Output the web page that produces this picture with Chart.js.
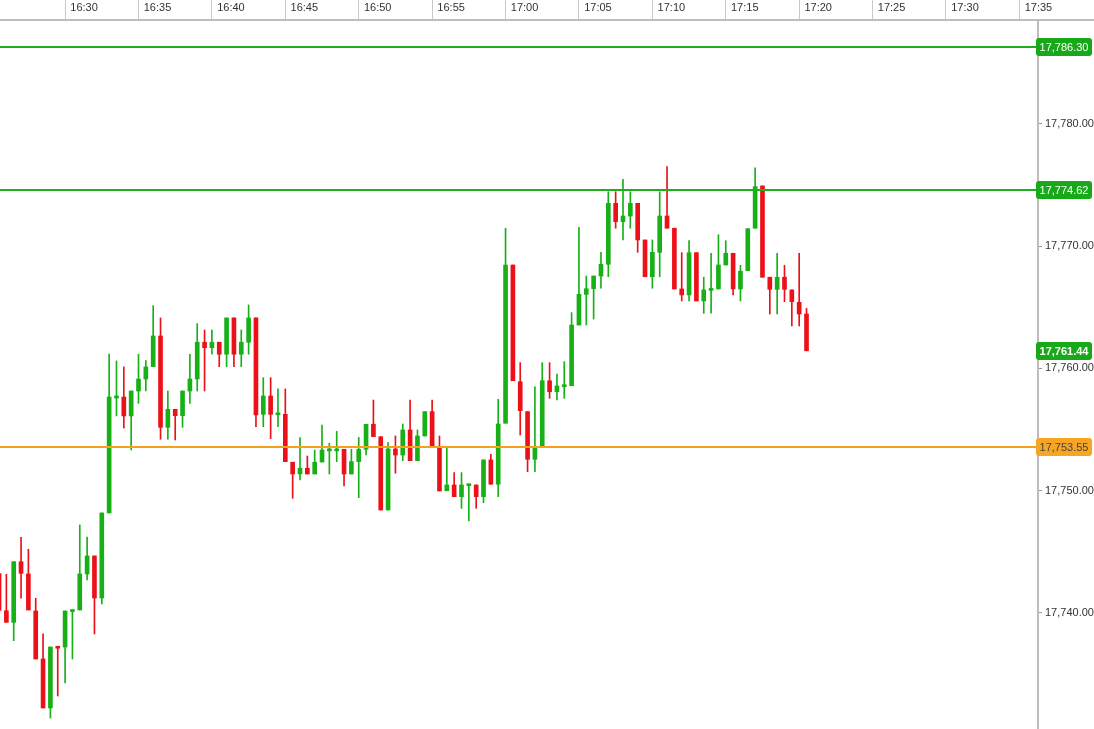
<!DOCTYPE html>
<html><head><meta charset="utf-8">
<script src="https://cdn.jsdelivr.net/npm/chart.js@4.4.1/dist/chart.umd.min.js"></script>
<style>html,body{margin:0;padding:0;background:#fff;overflow:hidden}canvas{display:block}</style>
</head><body>
<canvas id="c" width="1094" height="729"></canvas>
<script>
// 30-second candles, first one at 16:25:30
const firstCandleTime = '16:25:30';
const candleSeconds = 30;

const opens = [
 17743.20,17740.17,17739.22,17744.18,17743.18,17740.15,17736.22,17732.21,17737.20,17737.20,
 17740.10,17740.23,17743.18,17744.65,17741.21,17748.17,17757.58,17757.66,17756.11,17758.15,
 17759.13,17760.14,17762.65,17755.18,17756.65,17756.13,17758.15,17759.13,17762.14,17761.69,
 17762.14,17761.16,17764.13,17761.16,17762.14,17764.13,17756.24,17757.74,17756.20,17756.24,
 17752.32,17751.36,17751.83,17751.36,17752.34,17753.25,17753.25,17753.38,17751.36,17752.37,
 17753.38,17755.43,17754.41,17748.41,17753.41,17752.91,17754.96,17752.45,17754.47,17756.46,
 17753.51,17749.99,17750.46,17749.50,17750.40,17750.46,17749.50,17752.51,17750.52,17755.51,
 17768.46,17758.91,17756.46,17752.56,17753.59,17758.99,17758.09,17758.50,17758.58,17763.55,
 17766.06,17766.52,17767.56,17768.52,17773.51,17772.01,17772.47,17773.51,17770.51,17767.50,
 17769.50,17772.47,17771.47,17766.50,17766.01,17769.47,17765.52,17766.38,17766.50,17768.46,
 17769.42,17766.50,17768.00,17771.47,17774.93,17767.46,17766.47,17767.46,17766.42,17765.41,17764.45
];
const highs = [
 17743.20,17743.15,17744.18,17746.18,17745.20,17741.19,17738.27,17737.20,17737.20,17740.15,
 17740.15,17747.19,17746.20,17744.65,17748.17,17761.18,17760.61,17760.12,17758.15,17761.16,
 17760.63,17765.13,17764.13,17758.15,17756.65,17758.15,17761.16,17763.66,17763.14,17763.14,
 17762.14,17764.13,17764.13,17763.14,17765.19,17764.13,17759.24,17759.24,17758.32,17758.32,
 17752.32,17754.33,17752.83,17753.32,17755.37,17753.87,17754.85,17753.38,17753.38,17754.36,
 17755.43,17757.41,17754.41,17753.92,17754.47,17755.45,17757.41,17754.96,17756.46,17757.41,
 17754.47,17753.59,17751.47,17751.47,17750.46,17750.46,17752.51,17752.97,17757.47,17771.47,
 17768.46,17760.47,17756.46,17758.50,17760.47,17760.47,17759.54,17760.55,17764.56,17771.55,
 17767.56,17767.56,17769.50,17774.46,17774.46,17775.47,17774.46,17773.51,17770.51,17770.51,
 17774.46,17776.51,17771.47,17769.47,17770.45,17769.47,17767.46,17769.42,17770.94,17770.45,
 17769.42,17768.44,17771.43,17776.42,17774.93,17767.46,17769.42,17768.44,17766.42,17769.42,17764.92
];
const lows = [
 17740.20,17739.22,17737.72,17741.19,17740.23,17736.22,17732.21,17731.39,17733.19,17734.26,
 17736.22,17740.23,17742.69,17738.27,17740.72,17748.17,17756.11,17755.12,17753.32,17757.14,
 17758.15,17760.14,17754.20,17754.20,17754.14,17755.18,17757.14,17758.15,17758.15,17761.16,
 17760.14,17760.14,17760.14,17760.14,17761.16,17755.23,17755.23,17754.25,17755.23,17752.37,
 17749.37,17750.87,17751.36,17751.36,17752.34,17751.36,17752.37,17750.38,17751.36,17749.42,
 17752.91,17754.41,17748.41,17748.41,17751.42,17752.45,17752.45,17752.45,17754.47,17753.59,
 17749.97,17749.99,17749.50,17748.55,17747.51,17748.55,17749.01,17750.52,17749.50,17755.51,
 17758.99,17754.55,17751.55,17751.55,17753.59,17757.55,17757.41,17757.55,17758.58,17763.55,
 17763.55,17764.04,17766.56,17767.50,17771.47,17770.51,17771.47,17769.50,17767.50,17766.56,
 17767.50,17771.47,17766.50,17765.52,17765.52,17765.52,17764.51,17764.51,17766.50,17768.46,
 17766.01,17765.52,17768.00,17771.47,17767.46,17764.45,17764.45,17765.46,17763.47,17763.47,17761.44
];
const closes = [
 17740.20,17739.22,17744.18,17743.23,17740.23,17736.22,17732.21,17737.20,17737.10,17740.15,
 17740.15,17743.18,17744.65,17741.21,17748.17,17757.66,17757.66,17756.11,17758.15,17759.13,
 17760.12,17762.65,17755.18,17756.65,17756.13,17758.15,17759.13,17762.14,17761.69,17762.14,
 17761.16,17764.13,17761.16,17762.14,17764.13,17756.19,17757.74,17756.24,17756.24,17752.37,
 17751.36,17751.83,17751.36,17752.32,17753.32,17753.32,17753.32,17751.36,17752.37,17753.38,
 17755.43,17754.41,17748.41,17753.41,17752.91,17754.96,17752.45,17754.47,17756.46,17753.59,
 17749.97,17750.46,17749.50,17750.46,17750.46,17749.50,17752.51,17750.52,17755.45,17768.46,
 17758.99,17756.54,17752.56,17753.59,17758.99,17758.09,17758.56,17758.56,17763.55,17766.06,
 17766.52,17767.56,17768.52,17773.51,17772.01,17772.47,17773.51,17770.51,17767.50,17769.50,
 17772.47,17771.47,17766.50,17766.01,17769.47,17765.52,17766.42,17766.42,17768.46,17769.42,
 17766.50,17767.95,17771.43,17774.87,17767.46,17766.47,17767.46,17766.47,17765.46,17764.45,17761.44
];

const xTickLabels = ['16:30','16:35','16:40','16:45','16:50','16:55','17:00','17:05','17:10','17:15','17:20','17:25','17:30','17:35'];
const yTickValues = [17740, 17750, 17760, 17770, 17780];
const xWindow = ['16:25:34', '17:36:16'];
const yWindow = [17730.49, 17788.51];

const levelValues = [17786.30, 17774.62, 17753.55];
const levelKinds = ['green', 'green', 'orange'];
const lastPrice = 17761.44;

const COL = { up: '#17b017', down: '#ec1119', green: '#1fae1f', orange: '#f5a11c', badgeGreen: '#17a917', badgeOrange: '#f7a623' };
const FONT = '"Liberation Sans", Arial, sans-serif';

function toMin(s) { const p = s.split(':').map(Number); return p[0]*60 + p[1] + (p[2]||0)/60; }
const t0 = toMin(firstCandleTime);
const times = opens.map((_, i) => t0 + i * candleSeconds / 60);
const candleColors = opens.map((o, i) => closes[i] >= o ? COL.up : COL.down);
const fmtPrice = v => v.toLocaleString('en-US', {minimumFractionDigits: 2, maximumFractionDigits: 2});

const levelsPlugin = {
  id: 'levels',
  afterDatasetsDraw(chart) {
    const {ctx, chartArea, scales: {y}} = chart;
    levelValues.forEach((v, i) => {
      const py = Math.round(y.getPixelForValue(v));
      ctx.save();
      ctx.strokeStyle = levelKinds[i] === 'orange' ? COL.orange : COL.green;
      ctx.lineWidth = 2;
      ctx.beginPath(); ctx.moveTo(chartArea.left, py); ctx.lineTo(chartArea.right, py); ctx.stroke();
      ctx.restore();
    });
  },
  afterDraw(chart) {
    const {ctx, chartArea, scales: {x, y}, width} = chart;
    ctx.save();
    ctx.strokeStyle = '#bdbdbd'; ctx.lineWidth = 2;
    ctx.beginPath(); ctx.moveTo(chartArea.right, x.bottom); ctx.lineTo(width, x.bottom); ctx.stroke();
    const badge = (v, fill, textColor, bold) => {
      const py = Math.round(y.getPixelForValue(v));
      const bx = chartArea.right - 2, bw = width - bx - 2, bh = 18, by = py - 9;
      ctx.fillStyle = fill;
      ctx.beginPath(); ctx.roundRect(bx, by, bw, bh, 3); ctx.fill();
      ctx.fillStyle = textColor;
      ctx.font = (bold ? 'bold ' : '') + '11px ' + FONT;
      ctx.textAlign = 'center'; ctx.textBaseline = 'middle';
      ctx.fillText(fmtPrice(v), bx + bw / 2, py + 0.5);
    };
    levelValues.forEach((v, i) => {
      if (levelKinds[i] === 'orange') badge(v, COL.badgeOrange, '#444', false);
      else badge(v, COL.badgeGreen, '#fff', false);
    });
    badge(lastPrice, COL.badgeGreen, '#fff', true);
    ctx.restore();
  }
};

new Chart(document.getElementById('c'), {
  type: 'bar',
  data: {
    datasets: [
      { label: 'range', data: times.map((t, i) => ({x: t, y: [lows[i], highs[i]]})),
        backgroundColor: candleColors, barThickness: 1, grouped: false, order: 2 },
      { label: 'body', data: times.map((t, i) => ({x: t, y: [opens[i], closes[i]]})),
        backgroundColor: candleColors, barThickness: 4, minBarLength: 2, grouped: false, order: 1 }
    ]
  },
  options: {
    responsive: false, animation: false, events: [],
    layout: { padding: 0 },
    plugins: { legend: { display: false }, tooltip: { enabled: false } },
    scales: {
      x: {
        type: 'linear', position: 'top', offset: false,
        min: toMin(xWindow[0]), max: toMin(xWindow[1]),
        afterBuildTicks: s => { s.ticks = xTickLabels.map(l => ({value: toMin(l)})); },
        afterFit: s => { s.height = 20; s.paddingLeft = 0; s.paddingRight = 0; },
        ticks: { callback: (v, i) => xTickLabels[i], labelOffset: 19, padding: -15, maxRotation: 0, autoSkip: false,
                 color: '#333', font: { family: FONT, size: 11 } },
        grid: { drawOnChartArea: false, offset: false, tickLength: 20, color: '#c8c8c8', lineWidth: 1 },
        border: { color: '#bdbdbd', width: 2 }
      },
      y: {
        type: 'linear', position: 'right',
        min: yWindow[0], max: yWindow[1],
        afterBuildTicks: s => { s.ticks = yTickValues.map(v => ({value: v})); },
        afterFit: s => { s.width = 56; s.paddingTop = 0; s.paddingBottom = 0; },
        ticks: { callback: v => fmtPrice(v), padding: 3, color: '#333', font: { family: FONT, size: 11 } },
        grid: { drawOnChartArea: false, offset: false, tickLength: 4, color: '#999' },
        border: { color: '#bdbdbd', width: 2 }
      }
    }
  },
  plugins: [levelsPlugin]
});
</script>
</body></html>
